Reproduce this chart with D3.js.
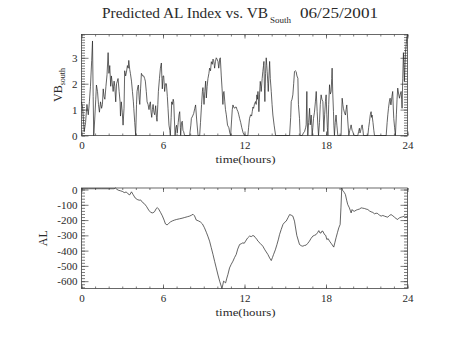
<!DOCTYPE html>
<html>
<head>
<meta charset="utf-8">
<script src="https://cdn.jsdelivr.net/npm/d3@7"></script>
<style>
  html, body { margin: 0; padding: 0; background: #fff; }
  svg { display: block; }
  text { font-family: "Liberation Serif", "DejaVu Serif", serif; fill: #2a2a2a; }
</style>
</head>
<body>
<svg id="chart" width="454" height="341"></svg>
<script>
// Southward IMF component (VB_south), sampled in hours of the day
const vbTime = [0.00,0.08,0.20,0.30,0.40,0.50,0.58,0.66,0.75,0.81,0.86,0.90,0.97,1.05,1.10,1.18,1.25,1.32,1.40,1.48,1.54,1.60,1.66,1.72,1.80,1.88,1.96,2.02,2.08,2.15,2.20,2.28,2.33,2.40,2.45,2.52,2.58,2.64,2.69,2.77,2.84,2.87,2.93,3.00,3.06,3.13,3.18,3.25,3.31,3.38,3.44,3.48,3.55,3.60,3.68,3.75,3.82,3.85,3.92,3.99,4.05,4.09,4.15,4.19,4.25,4.29,4.35,4.41,4.50,4.58,4.65,4.70,4.77,4.83,4.90,4.97,5.02,5.07,5.12,5.17,5.22,5.27,5.33,5.39,5.46,5.52,5.56,5.62,5.66,5.74,5.81,5.88,5.92,5.95,6.00,6.05,6.10,6.12,6.18,6.25,6.32,6.37,6.44,6.50,6.54,6.60,6.64,6.69,6.75,6.79,6.84,6.89,6.95,7.00,7.05,7.12,7.18,7.23,7.28,7.30,7.36,7.42,7.47,7.52,7.59,7.96,8.05,8.09,8.18,8.26,8.34,8.40,8.48,8.58,8.70,8.76,8.84,8.90,8.94,9.02,9.08,9.14,9.19,9.25,9.31,9.38,9.43,9.50,9.56,9.63,9.68,9.73,9.78,9.80,9.86,9.92,9.98,10.05,10.10,10.12,10.17,10.22,10.29,10.35,10.41,10.45,10.49,10.55,10.60,10.66,10.75,10.85,10.92,10.98,11.05,11.10,11.15,11.20,11.27,11.33,11.39,11.45,11.52,11.58,11.64,11.72,11.80,11.90,12.00,12.25,12.30,12.37,12.45,12.52,12.57,12.62,12.67,12.73,12.81,12.86,12.91,12.96,12.99,13.03,13.06,13.11,13.16,13.20,13.23,13.30,13.35,13.40,13.43,13.47,13.50,13.55,13.60,13.64,13.67,13.72,13.75,13.80,13.85,13.90,13.97,14.03,14.09,14.18,14.29,15.32,15.40,15.44,15.50,15.56,15.62,15.68,15.74,15.80,15.86,15.93,15.97,16.05,16.10,16.25,16.34,16.42,16.50,16.54,16.59,16.62,16.66,16.72,16.79,16.84,16.91,16.95,16.98,17.03,17.08,17.15,17.22,17.28,17.35,17.40,17.45,17.52,17.58,17.64,17.70,17.77,17.84,17.90,17.96,18.01,18.06,18.10,18.14,18.20,18.26,18.32,18.38,18.42,18.45,18.50,18.55,18.58,18.62,18.68,18.74,18.80,18.87,19.11,19.15,19.19,19.24,19.28,19.35,19.43,19.48,19.53,19.60,19.68,19.75,19.80,19.85,19.92,19.97,20.03,20.10,20.34,20.40,20.46,20.50,20.54,20.60,20.66,20.72,20.76,21.08,21.14,21.20,21.26,21.32,21.36,21.39,21.46,21.52,21.57,22.43,22.50,22.55,22.60,22.66,22.72,22.76,22.79,22.85,22.91,22.95,22.99,23.05,23.11,23.18,23.23,23.28,23.35,23.41,23.47,23.53,23.57,23.60,23.65,23.70,23.74,23.77,23.82,23.85,23.90,23.95,24.00];
const vbSouth = [1.30,1.10,0.15,0.50,1.20,0.80,1.30,1.90,2.90,3.65,1.50,0.00,0.60,1.40,1.95,1.70,1.20,0.90,1.30,1.05,1.20,1.80,1.50,1.40,1.90,2.35,3.20,2.40,2.70,1.90,2.30,1.95,1.70,2.10,1.90,1.30,2.00,2.10,2.20,1.70,1.30,0.75,1.30,0.90,0.40,1.05,2.50,2.30,2.45,2.70,2.60,2.90,2.55,2.40,2.10,1.70,1.30,1.05,0.50,0.00,1.20,1.70,1.90,1.95,1.40,1.20,1.80,2.40,2.30,2.30,2.20,2.10,1.70,1.30,1.20,1.00,1.20,1.30,0.90,0.70,1.00,1.20,0.90,0.80,1.15,0.70,0.55,1.20,1.70,2.20,2.60,2.80,2.20,1.80,2.30,2.30,1.90,1.70,2.00,2.00,1.50,1.05,0.40,0.20,0.00,0.70,1.30,1.20,1.40,1.30,0.60,0.00,0.30,0.40,0.10,0.50,0.80,0.92,0.30,0.00,0.50,0.55,0.20,0.15,0.00,0.00,0.40,0.66,0.75,0.85,1.05,1.18,0.60,0.00,0.00,0.50,1.20,1.70,1.85,1.20,1.70,2.10,1.45,1.90,2.20,2.40,2.60,2.50,2.85,2.75,2.95,2.90,2.70,2.60,2.85,3.00,2.95,2.85,2.60,2.65,2.95,3.00,2.30,1.80,1.20,1.65,1.70,1.30,1.00,0.80,0.40,0.30,0.10,0.00,0.60,1.00,1.18,1.10,1.05,1.10,1.10,1.00,0.92,0.80,0.66,0.50,0.30,0.10,0.00,0.00,0.30,0.66,0.80,0.75,0.92,1.10,1.05,1.20,1.31,1.20,1.57,1.40,1.70,1.30,0.92,1.60,2.09,1.90,1.70,2.20,2.47,2.70,2.86,1.80,1.31,2.40,3.00,2.70,2.47,2.00,1.70,2.30,2.86,2.20,1.70,1.20,0.79,0.40,0.00,0.00,0.70,1.31,1.40,1.57,2.00,2.47,2.50,2.47,2.30,2.21,1.20,0.66,0.00,0.00,0.10,0.15,0.30,0.41,1.70,0.60,0.00,0.50,1.05,0.41,0.79,0.40,0.00,0.30,0.66,0.90,1.30,1.70,0.92,0.40,0.00,0.50,1.20,1.57,1.40,1.31,0.15,0.80,1.31,1.57,0.80,0.30,0.00,1.20,1.96,1.60,1.70,2.20,2.60,1.60,0.92,0.40,0.00,0.50,0.79,0.40,0.00,0.00,0.80,1.44,1.20,1.05,0.90,0.79,1.00,1.18,0.60,0.00,0.20,0.30,0.41,0.20,0.15,0.05,0.00,0.00,0.15,0.28,0.10,0.15,0.30,0.41,0.20,0.00,0.00,0.30,0.53,0.80,0.92,0.70,0.79,0.50,0.20,0.00,0.00,0.50,0.80,1.05,1.30,1.44,1.20,1.18,1.50,1.70,1.10,0.66,0.30,0.00,0.80,1.40,1.83,1.60,1.44,1.60,1.70,1.40,1.05,2.20,3.20,2.60,2.09,2.80,3.20,3.50,3.80,3.90];

// Predicted AL index (nT), sampled in hours of the day
const alTime = [0.00,0.50,1.00,1.50,2.00,2.40,2.50,2.58,2.70,2.85,3.00,3.15,3.30,3.42,3.55,3.68,3.80,3.95,4.10,4.25,4.35,4.50,4.62,4.78,4.95,5.10,5.25,5.38,5.50,5.58,5.68,5.82,5.95,6.08,6.18,6.30,6.42,6.55,6.70,6.85,7.00,7.20,7.40,7.60,7.80,7.96,8.10,8.21,8.32,8.45,8.60,8.75,8.90,9.05,9.19,9.30,9.43,9.55,9.68,9.80,9.92,10.05,10.17,10.26,10.34,10.40,10.46,10.53,10.61,10.70,10.78,10.90,11.02,11.15,11.27,11.39,11.50,11.64,11.76,11.88,11.98,12.08,12.22,12.37,12.50,12.62,12.72,12.81,12.90,12.99,13.15,13.35,13.50,13.72,13.85,13.97,14.06,14.14,14.27,14.39,14.50,14.58,14.70,14.83,14.95,15.07,15.20,15.32,15.44,15.56,15.68,15.85,16.05,16.18,16.29,16.42,16.54,16.66,16.78,16.90,17.03,17.15,17.27,17.38,17.47,17.56,17.64,17.70,17.77,17.89,17.98,18.06,18.16,18.26,18.40,18.57,18.66,18.74,18.85,18.94,19.04,19.10,19.16,19.22,19.28,19.35,19.43,19.52,19.60,19.72,19.80,19.85,19.92,20.00,20.10,20.22,20.34,20.46,20.59,20.70,20.83,20.95,21.08,21.20,21.32,21.45,21.57,21.69,21.81,21.93,22.06,22.18,22.30,22.42,22.55,22.67,22.79,22.92,23.04,23.16,23.28,23.40,23.53,23.65,23.77,23.88,24.00];
const alIndex = [5,5,5,5,5,5,10,3,-4,-8,-12,-20,-16,-28,-35,-15,-33,-55,-65,-70,-68,-85,-92,-110,-135,-150,-153,-145,-125,-118,-128,-150,-172,-200,-225,-232,-222,-212,-205,-200,-196,-192,-188,-183,-178,-174,-168,-162,-172,-200,-205,-212,-225,-250,-280,-305,-338,-380,-425,-470,-513,-560,-600,-625,-648,-625,-600,-605,-611,-580,-556,-513,-490,-469,-445,-425,-390,-360,-355,-349,-352,-338,-318,-305,-308,-301,-305,-316,-325,-338,-352,-371,-395,-425,-448,-465,-445,-425,-395,-360,-325,-295,-262,-229,-215,-207,-185,-164,-168,-174,-207,-300,-360,-368,-371,-366,-364,-352,-338,-320,-305,-300,-295,-282,-269,-285,-284,-272,-273,-295,-300,-327,-322,-338,-355,-377,-345,-316,-280,-251,-229,-120,10,-5,-11,-20,-33,-70,-98,-120,-140,-153,-131,-140,-142,-135,-131,-128,-120,-122,-124,-128,-131,-140,-146,-150,-159,-155,-157,-168,-174,-170,-174,-178,-181,-170,-164,-172,-181,-190,-196,-185,-181,-178,-174,-180,-174];

// Axis tick values
const hourTicks = [0, 6, 12, 18, 24];
const hourMinor = d3.range(0, 25, 1);
const vbTicks = [0, 1, 2, 3];
const vbMinor = d3.range(0, 3.95, 0.1);
const alTicks = [0, -100, -200, -300, -400, -500, -600];
const alMinor = d3.range(0, -660, -20);

const titleMain = "Predicted AL Index vs. VB";
const titleSub = "South";
const titleDate = "06/25/2001";
const xTitle = "time(hours)";

const svg = d3.select("#chart");
svg.append("rect").attr("width", 454).attr("height", 341).attr("fill", "#fff");

const left = 81.5, right = 407.5;
const x = d3.scaleLinear().domain([0, 24]).range([left, right]);

function panel(top, bottom, yDomain, major, minor, times, values, labelParts) {
  const y = d3.scaleLinear().domain(yDomain).range([bottom, top]);
  const g = svg.append("g");
  const w = right - left, h = bottom - top;

  // x ticks on bottom and top edges, pointing inward
  g.append("g").attr("transform", `translate(0,${bottom})`)
    .call(d3.axisBottom(x).tickValues(hourMinor).tickSize(-2).tickFormat(""));
  g.append("g").attr("transform", `translate(0,${bottom})`)
    .call(d3.axisBottom(x).tickValues(hourTicks).tickSize(-4).tickPadding(6).tickFormat(d3.format("d")));
  g.append("g").attr("transform", `translate(0,${top})`)
    .call(d3.axisTop(x).tickValues(hourMinor).tickSize(-2).tickFormat(""));
  g.append("g").attr("transform", `translate(0,${top})`)
    .call(d3.axisTop(x).tickValues(hourTicks).tickSize(-4).tickFormat(""));

  // y ticks on left and right edges, pointing inward
  g.append("g").attr("transform", `translate(${left},0)`)
    .call(d3.axisLeft(y).tickValues(minor).tickSize(-3.5).tickFormat(""));
  g.append("g").attr("transform", `translate(${left},0)`)
    .call(d3.axisLeft(y).tickValues(major).tickSize(-7).tickPadding(4)
      .tickFormat(d => String(d)));
  g.append("g").attr("transform", `translate(${right},0)`)
    .call(d3.axisRight(y).tickValues(minor).tickSize(-3.5).tickFormat(""));
  g.append("g").attr("transform", `translate(${right},0)`)
    .call(d3.axisRight(y).tickValues(major).tickSize(-7).tickFormat(""));

  g.selectAll(".domain").remove();
  g.selectAll(".tick line").attr("stroke", "#444").attr("stroke-width", 0.7);
  g.selectAll(".tick text").attr("font-family", "Liberation Serif, DejaVu Serif, serif")
    .attr("font-size", 11).attr("fill", "#2a2a2a");

  // frame
  g.append("rect").attr("x", left).attr("y", top).attr("width", w).attr("height", h)
    .attr("fill", "none").attr("stroke", "#444").attr("stroke-width", 0.8);

  // data line
  const line = d3.line().x((d, i) => x(times[i])).y(d => y(d));
  g.append("path").datum(values).attr("d", line)
    .attr("fill", "none").attr("stroke", "#222").attr("stroke-width", 0.7);

  // x axis title
  g.append("text").attr("x", (left + right) / 2 + 1).attr("y", bottom + 27.5)
    .attr("text-anchor", "middle").attr("font-size", 11)
    .attr("textLength", 60).attr("lengthAdjust", "spacingAndGlyphs").text(xTitle);

  // y axis title (rotated)
  const yt = g.append("text")
    .attr("transform", `translate(${labelParts.x},${(top + bottom) / 2}) rotate(-90)`)
    .attr("text-anchor", "middle").attr("font-size", 12);
  yt.append("tspan").text(labelParts.main);
  if (labelParts.sub) {
    yt.append("tspan").attr("font-size", 8).attr("dy", 3).text(labelParts.sub);
  }
  return y;
}

panel(34.5, 135.5, d3.extent(vbSouth), vbTicks, vbMinor, vbTime, vbSouth,
      { x: 62, main: "VB", sub: "south" });
panel(188, 288.5, d3.extent(alIndex), alTicks, alMinor, alTime, alIndex,
      { x: 47, main: "AL" });

// title
const t = svg.append("text").attr("y", 18).attr("font-size", 14);
t.append("tspan").attr("x", 102).attr("textLength", 166).attr("lengthAdjust", "spacingAndGlyphs").text(titleMain);
t.append("tspan").attr("x", 270).attr("font-size", 9).attr("dy", 5).text(titleSub);
t.append("tspan").attr("x", 300).attr("dy", -5).attr("textLength", 78).attr("lengthAdjust", "spacingAndGlyphs").text(titleDate);
</script>
</body>
</html>
